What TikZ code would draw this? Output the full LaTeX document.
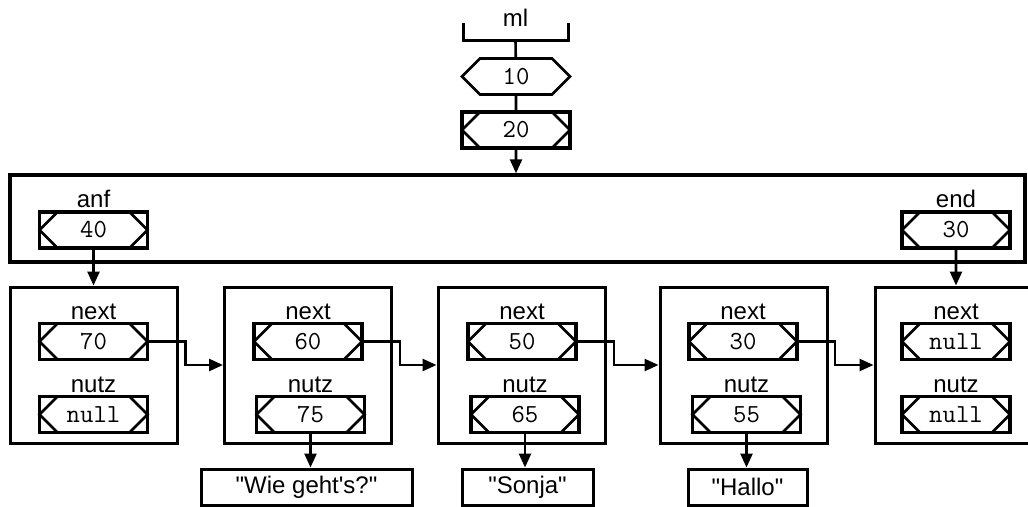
\documentclass[tikz,border=0pt]{standalone}
\usepackage{fontspec}
\setmainfont{Liberation Sans}[Ligatures=TeXOff]
\usetikzlibrary{shapes.symbols,fit,arrows.meta}

\tikzset{
  hexa/.style={shape=signal, signal to=west and east, signal pointer angle=90,
    draw, line width=2.6pt, outer sep=0pt, inner sep=0pt,
    minimum width=108pt, minimum height=36pt,
    font=\ttfamily\fontsize{26}{28}\selectfont},
  cell/.style={hexa, append after command={\pgfextra{
      \draw[line width=3.2pt] (\tikzlastnode.west |- \tikzlastnode.north)
        rectangle (\tikzlastnode.east |- \tikzlastnode.south);}}},
  lab/.style={font=\fontsize{24}{28}\selectfont, inner sep=0pt},
  frame/.style={draw, line width=3.4pt, inner sep=0pt},
  elem/.style={draw, line width=3pt, minimum width=167pt, minimum height=156pt},
  strbox/.style={draw, line width=3pt, minimum height=36pt, inner sep=0pt,
    font=\fontsize{24}{28}\selectfont},
  conn/.style={line width=2.6pt}
}

\begin{document}
\begin{tikzpicture}[x=1pt,y=-1pt,label distance=4pt,
    >={Triangle[length=14pt,width=12pt]}]
\useasboundingbox (0,0) rectangle (1028,506);

% variable ml
\node (ml) [lab, anchor=base] at (515.5,27) {ml};
\draw[line width=3pt] (463,23) |- (568,40) -- (568,23);
\coordinate (mlbar) at (515.5,40);
\node (v10) [hexa] at (516,76.5) {10};
\node (v20) [cell] at (516,130) {20};
\draw[conn] (mlbar) -- (v10);
\draw[conn] (v10) -- (v20);

% Listenobjekt
\node (liste) [frame, fit={(10,175) (1025,262)}] {};
\draw[conn,->] (v20) -- (v20 |- liste.north);
\node (anf) [cell, label={[lab]above:anf}] at (93.5,230) {40};
\node (ende) [cell, label={[lab]above:end}] at (956,230) {30};

% Elemente
\foreach \i/\x/\nx/\nv/\ux/\uv in {1/93.5/93.5/70/93.5/null, 2/308/308/60/310.5/75,
    3/521.5/522/50/525/65, 4/743.5/743/30/746.5/55, 5/958.5/956/null/956/null}{
  \node (e\i) [elem] at (\x,365) {};
  \node (n\i) [cell, label={[lab]above:next}] at (\nx,341.5) {\nv};
  \node (u\i) [cell, label={[lab]above:nutz}] at (\ux,414.5) {\uv};
}
\draw[conn,->] (anf) -- (anf |- e1.north);
\draw[conn,->] (ende) -- (ende |- e5.north);
\foreach \i/\j in {1/2,2/3,3/4,4/5}
  \draw[conn,->] (n\i.east) -- ++(38,0) |- (e\j);

% Zeichenketten
\node (s2) [strbox, minimum width=211pt] at (306.5,487) {"Wie geht's?"};
\node (s3) [strbox, minimum width=131pt] at (527.5,487) {"Sonja"};
\node (s4) [strbox, minimum width=119pt] at (747.5,487) {"Hallo"};
\foreach \i in {2,3,4}
  \draw[conn,->] (u\i.south) -- (u\i.south |- s\i.north);
\end{tikzpicture}
\end{document}
